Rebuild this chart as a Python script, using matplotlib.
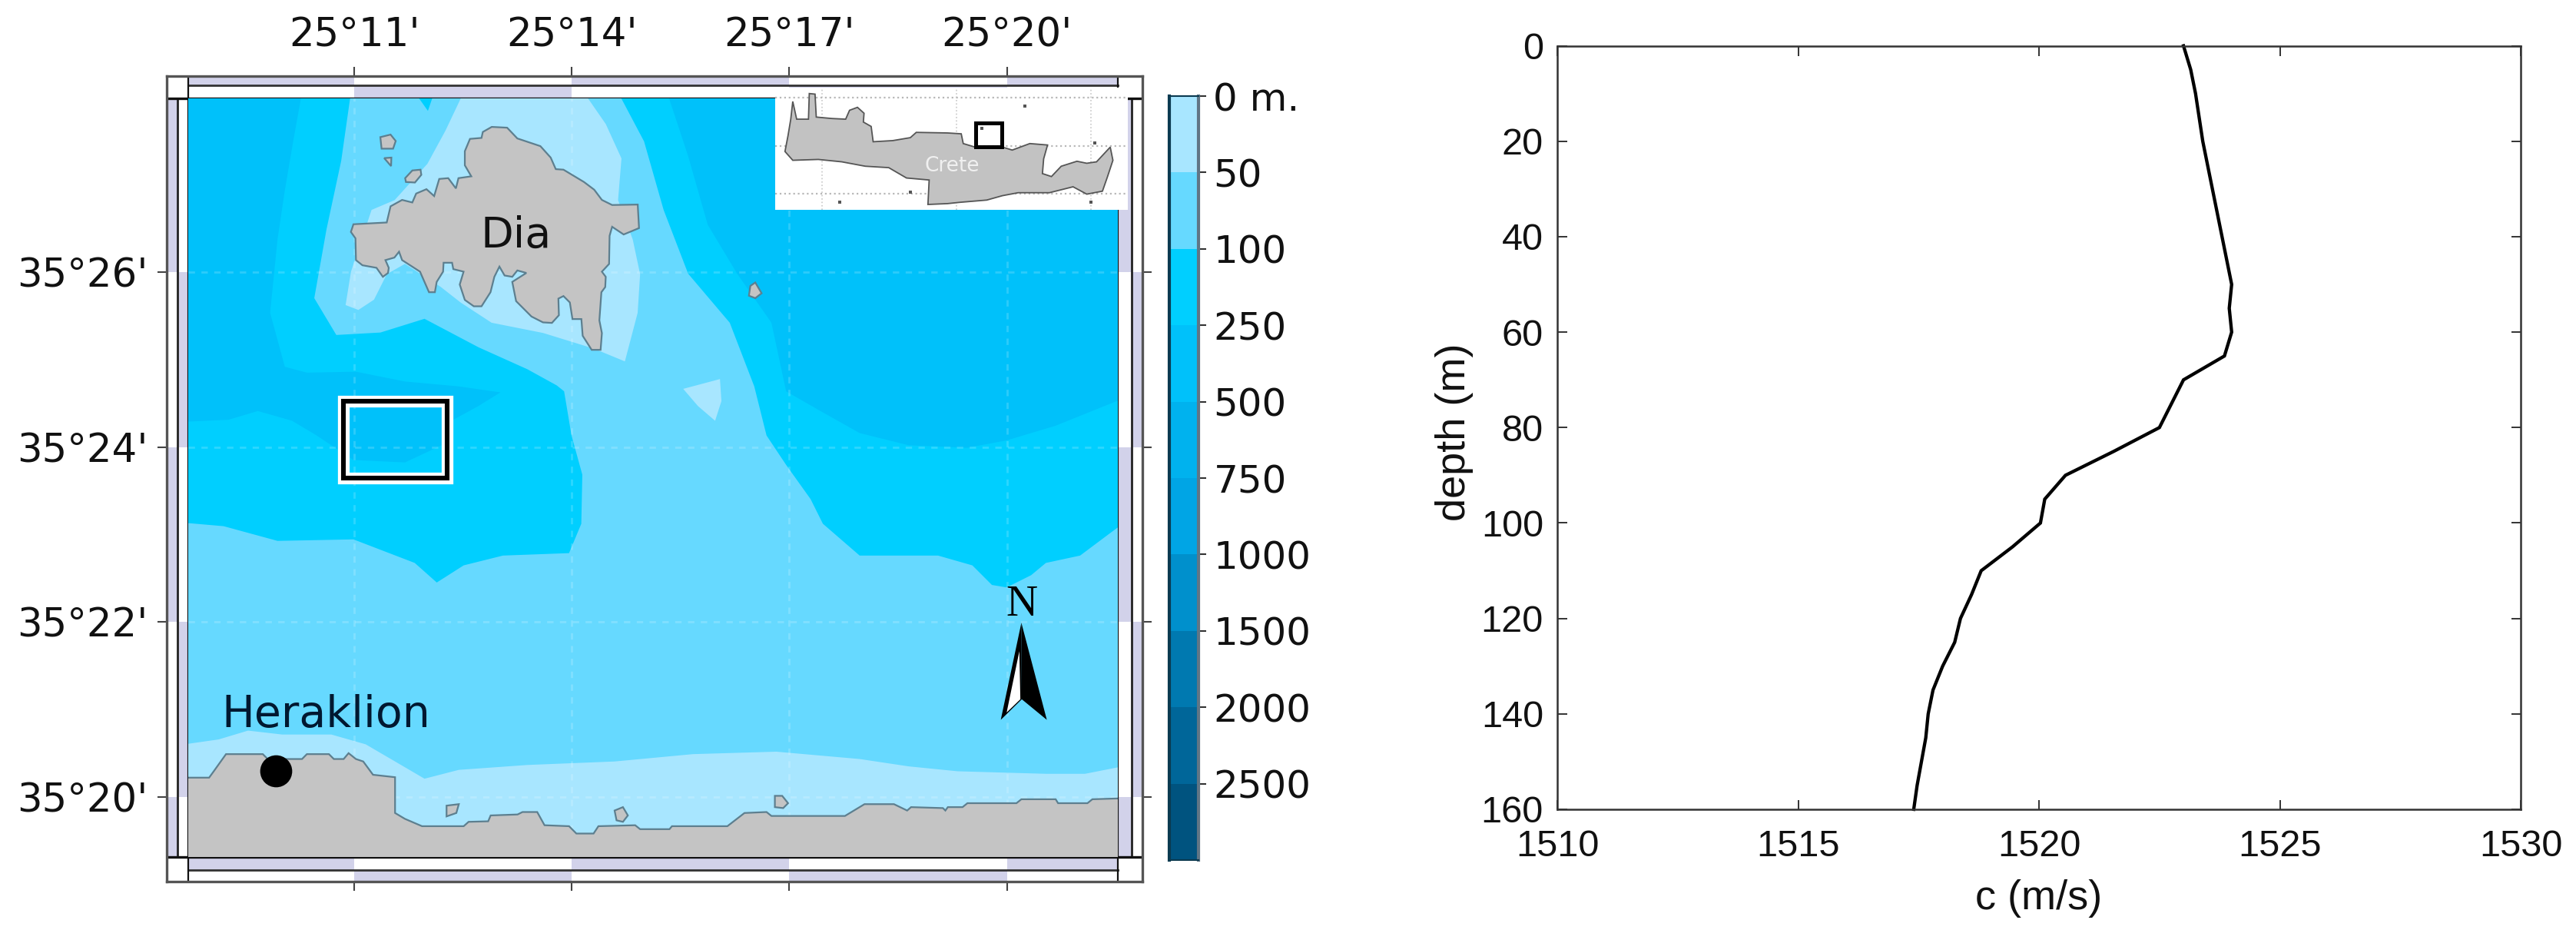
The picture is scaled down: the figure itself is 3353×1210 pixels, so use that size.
import matplotlib
matplotlib.use("Agg")
import matplotlib.pyplot as plt
from matplotlib.patches import Rectangle

W, H = 3353, 1210

# ---------- sound speed profile ----------
depth_m = [0, 5, 10, 20, 30, 40, 50, 55, 60, 65, 70, 75, 80, 85, 90, 95, 100, 105, 110, 115, 120, 125, 130, 135, 140, 145, 150, 155, 160]
sound_speed = [1523.0, 1523.15, 1523.25, 1523.4, 1523.6, 1523.8, 1524.0, 1523.95, 1524.0, 1523.85, 1523.0, 1522.75, 1522.5, 1521.55, 1520.55, 1520.12, 1520.03, 1519.45, 1518.8, 1518.6, 1518.37, 1518.25, 1518.0, 1517.8, 1517.7, 1517.65, 1517.56, 1517.47, 1517.4]
c_ticks = [1510, 1515, 1520, 1525, 1530]
depth_ticks = [0, 20, 40, 60, 80, 100, 120, 140, 160]

# ---------- map ticks (arcminutes past 25 deg E / 35 deg N) ----------
lon_ticks = [11, 14, 17, 20]
lat_ticks = [20, 22, 24, 26]
lon_labels = ["25°11'", "25°14'", "25°17'", "25°20'"]
lat_labels = ["35°20'", "35°22'", "35°24'", "35°26'"]

# ---------- depth scale ----------
depth_labels = ["0 m.", "50", "100", "250", "500", "750", "1000", "1500", "2000", "2500"]
band_colors = ["#A8E6FF", "#66D9FF", "#00CFFF", "#00C1FA", "#00B2EE", "#00A5E5", "#0090CC", "#0079B0", "#006699", "#00537F"]

# ---------- bathymetry outlines ----------
deep_w_lon = [8.659, 10.281, 10.159, 10.044, 9.943, 9.841, 10.044, 10.348, 11.024, 11.700, 12.443, 13.017, 12.713, 12.341, 12.206, 11.700, 10.990, 10.686, 10.483, 10.145, 9.673, 9.267, 8.659]
deep_w_lat = [28.058, 28.058, 27.497, 26.937, 26.376, 25.536, 24.919, 24.852, 24.863, 24.751, 24.695, 24.627, 24.471, 24.302, 24.022, 23.826, 23.854, 24.022, 24.134, 24.302, 24.414, 24.314, 24.291]
deep_e_lon = [15.315, 15.605, 15.875, 16.281, 16.754, 16.956, 17.429, 17.970, 18.646, 19.456, 19.997, 20.673, 21.598, 21.598]
deep_e_lat = [28.058, 27.329, 26.545, 25.984, 25.423, 24.639, 24.414, 24.162, 24.022, 23.994, 24.078, 24.246, 24.555, 28.058]
mid_lon = [8.659, 9.200, 9.943, 10.990, 11.835, 12.139, 12.510, 13.051, 13.963, 14.132, 14.146, 13.997, 13.895, 13.794, 13.389, 12.713, 11.970, 11.362, 10.754, 10.450, 10.618, 10.821, 10.956, 11.835, 12.017, 12.105, 14.639, 14.997, 15.267, 15.605, 16.179, 16.517, 16.686, 16.956, 17.294, 17.463, 17.970, 19.051, 19.524, 19.794, 19.997, 20.335, 20.538, 21.010, 21.416, 21.598, 21.598, 8.659]
mid_lat = [23.136, 23.097, 22.929, 22.946, 22.677, 22.453, 22.649, 22.761, 22.789, 23.125, 23.686, 24.134, 24.639, 24.706, 24.891, 25.143, 25.468, 25.311, 25.283, 25.704, 26.488, 27.273, 28.058, 28.058, 27.845, 28.058, 28.058, 27.497, 26.713, 25.984, 25.423, 24.695, 24.134, 23.798, 23.406, 23.125, 22.761, 22.761, 22.649, 22.425, 22.397, 22.537, 22.677, 22.761, 23.013, 23.125, 19.269, 19.269]
shoal_dia_lon = [12.510, 14.166, 14.470, 14.686, 14.639, 14.841, 14.943, 14.909, 14.733, 14.308, 13.605, 12.895, 12.470, 12.193, 11.700, 11.450, 11.274, 11.058, 10.882, 10.956, 11.240, 11.558, 12.010, 12.260]
shoal_dia_lat = [28.058, 28.058, 27.694, 27.301, 26.825, 26.376, 25.978, 25.536, 24.981, 25.126, 25.306, 25.423, 25.653, 25.833, 26.096, 25.978, 25.687, 25.569, 25.625, 26.006, 26.713, 26.825, 27.240, 27.621]
shoal_spot_lon = [15.537, 16.044, 16.064, 15.977, 15.740]
shoal_spot_lat = [24.667, 24.779, 24.527, 24.302, 24.471]
shoal_coast_lon = [8.659, 9.132, 9.537, 10.010, 10.686, 11.159, 11.564, 11.970, 12.443, 13.389, 14.591, 15.673, 16.821, 17.970, 18.646, 19.321, 20.537, 21.078, 21.598, 21.598, 8.659]
shoal_coast_lat = [20.603, 20.659, 20.760, 20.715, 20.715, 20.603, 20.407, 20.210, 20.311, 20.367, 20.407, 20.491, 20.519, 20.435, 20.351, 20.295, 20.266, 20.266, 20.351, 19.269, 19.269]

# ---------- land ----------
dia_lon = [12.897, 13.109, 13.250, 13.568, 13.710, 13.780, 13.886, 14.169, 14.310, 14.416, 14.557, 14.910, 14.928, 14.716, 14.557, 14.522, 14.515, 14.416, 14.469, 14.462, 14.409, 14.381, 14.416, 14.398, 14.275, 14.151, 14.133, 14.010, 13.974, 13.886, 13.816, 13.823, 13.727, 13.604, 13.445, 13.233, 13.180, 13.374, 13.250, 13.180, 13.074, 13.003, 12.933, 12.880, 12.756, 12.650, 12.526, 12.456, 12.509, 12.367, 12.350, 12.233, 12.226, 12.138, 12.113, 12.032, 11.908, 11.661, 11.619, 11.555, 11.431, 11.477, 11.467, 11.396, 11.308, 11.114, 11.025, 11.018, 10.955, 10.990, 11.449, 11.502, 11.661, 11.802, 11.855, 11.997, 12.103, 12.173, 12.297, 12.403, 12.438, 12.615, 12.526, 12.526, 12.597, 12.756, 12.774]
dia_lat = [27.662, 27.653, 27.530, 27.442, 27.311, 27.179, 27.173, 27.032, 26.944, 26.827, 26.769, 26.774, 26.505, 26.432, 26.520, 26.417, 26.095, 26.007, 25.948, 25.831, 25.772, 25.450, 25.304, 25.113, 25.113, 25.274, 25.465, 25.465, 25.655, 25.728, 25.699, 25.509, 25.421, 25.427, 25.494, 25.670, 25.890, 25.992, 26.021, 25.948, 25.963, 26.065, 25.948, 25.772, 25.611, 25.611, 25.684, 25.860, 26.007, 26.036, 26.109, 26.109, 26.007, 25.890, 25.772, 25.772, 26.007, 26.139, 26.235, 26.168, 26.139, 26.051, 25.992, 25.948, 26.051, 26.080, 26.139, 26.388, 26.461, 26.549, 26.569, 26.754, 26.827, 26.798, 26.900, 26.950, 26.871, 27.067, 27.076, 26.959, 27.076, 27.097, 27.223, 27.384, 27.525, 27.536, 27.604]
islets_lon = [
    [11.361, 11.502, 11.573, 11.537, 11.378],
    [11.414, 11.513, 11.509],
    [11.703, 11.802, 11.915, 11.926, 11.838, 11.714],
    [16.463, 16.531, 16.618, 16.531, 16.443],
    [12.274, 12.443, 12.409, 12.274],
    [14.591, 14.706, 14.774, 14.706, 14.618],
    [16.801, 16.902, 16.983, 16.916, 16.801],
]
islets_lat = [
    [27.545, 27.574, 27.501, 27.413, 27.413],
    [27.305, 27.311, 27.214],
    [27.076, 27.164, 27.173, 27.114, 27.026, 27.032],
    [25.844, 25.883, 25.760, 25.704, 25.732],
    [19.902, 19.919, 19.818, 19.779],
    [19.846, 19.885, 19.790, 19.717, 19.734],
    [20.014, 20.014, 19.930, 19.874, 19.885],
]
coast_lon = [8.659, 9.000, 9.064, 9.233, 9.740, 9.808, 10.281, 10.348, 10.652, 10.720, 10.855, 10.923, 11.024, 11.125, 11.260, 11.564, 11.564, 11.700, 11.936, 12.510, 12.578, 12.848, 12.882, 13.253, 13.321, 13.524, 13.625, 13.963, 14.064, 14.301, 14.368, 14.875, 14.943, 15.348, 15.382, 16.146, 16.382, 16.686, 16.754, 17.767, 18.037, 18.443, 18.625, 18.679, 19.118, 19.152, 19.186, 19.389, 19.456, 20.132, 20.200, 20.673, 20.706, 21.111, 21.179, 21.600, 21.600, 8.659]
coast_lat = [20.222, 20.222, 20.295, 20.491, 20.491, 20.435, 20.435, 20.491, 20.491, 20.435, 20.435, 20.502, 20.435, 20.407, 20.255, 20.227, 19.818, 19.751, 19.667, 19.667, 19.717, 19.723, 19.790, 19.801, 19.829, 19.829, 19.678, 19.667, 19.583, 19.583, 19.667, 19.678, 19.633, 19.633, 19.667, 19.667, 19.818, 19.829, 19.784, 19.784, 19.919, 19.919, 19.846, 19.885, 19.874, 19.846, 19.885, 19.885, 19.930, 19.930, 19.975, 19.975, 19.930, 19.930, 19.975, 19.986, 19.200, 19.200]

# ---------- annotations on the map ----------
study_lon = [10.855, 12.287]
study_lat = [23.647, 24.527]
city_lon, city_lat = 9.916, 20.295
north_left_lon = [20.200, 19.916, 20.206]
north_left_lat = [21.993, 20.883, 21.118]
north_right_lon = [20.200, 20.206, 20.551]
north_right_lat = [21.993, 21.118, 20.883]
north_inner_lon = [20.172, 19.997, 20.186]
north_inner_lat = [21.668, 20.967, 21.118]

# ---------- Crete inset (degrees) ----------
crete_lon = [23.766, 23.781, 23.810, 23.898, 23.904, 23.947, 23.956, 24.073, 24.175, 24.204, 24.263, 24.312, 24.307, 24.365, 24.380, 24.526, 24.657, 24.701, 24.934, 25.036, 25.051, 25.139, 25.343, 25.416, 25.547, 25.679, 25.650, 25.641, 25.708, 25.781, 25.898, 25.971, 26.044, 26.146, 26.166, 26.126, 26.088, 25.971, 25.869, 25.693, 25.460, 25.343, 25.226, 25.022, 24.934, 24.788, 24.797, 24.628, 24.496, 24.321, 24.146, 23.971, 23.781, 23.723, 23.746]
crete_lat = [35.778, 35.963, 35.778, 35.778, 36.046, 36.040, 35.800, 35.785, 35.778, 35.871, 35.902, 35.840, 35.748, 35.702, 35.542, 35.554, 35.585, 35.640, 35.634, 35.625, 35.523, 35.486, 35.486, 35.455, 35.523, 35.508, 35.363, 35.209, 35.178, 35.286, 35.338, 35.317, 35.332, 35.486, 35.348, 35.178, 35.025, 34.994, 35.071, 35.009, 35.009, 34.978, 34.932, 34.908, 34.895, 34.886, 35.142, 35.163, 35.271, 35.286, 35.332, 35.357, 35.348, 35.440, 35.609]
crete_specks_lon = [26.029, 25.512, 24.131, 24.657, 26.000, 25.191]
crete_specks_lat = [35.526, 35.917, 34.908, 35.018, 34.908, 35.680]
inset_box_lon = [25.145, 25.340]
inset_box_lat = [35.492, 35.735]
inset_grid_lon = [24, 25, 26]
inset_grid_lat = [35, 35.5, 36]


def px_axes(fig, x0, y0, x1, y1, **kw):
    return fig.add_axes([x0 / W, 1 - y1 / H, (x1 - x0) / W, (y1 - y0) / H], **kw)


fig = plt.figure(figsize=(W / 100, H / 100), dpi=100, facecolor="white")

# --- fancy map frame
fr = px_axes(fig, 217, 99, 1487, 1147, zorder=1)
LON0, LON1, LAT0, LAT1 = 8.415, 21.869, 19.033, 28.243
IN_LON0, IN_LON1, IN_LAT0, IN_LAT1 = 8.712, 21.530, 19.315, 27.988
MID_L, MID_R, MID_B, MID_T = 8.564, 21.720, 19.165, 28.137
fr.set_xlim(LON0, LON1)
fr.set_ylim(LAT0, LAT1)
STRIP = "#D2D2EA"
xe = [IN_LON0] + lon_ticks + [IN_LON1]
ye = [IN_LAT0] + lat_ticks + [IN_LAT1]
for i in range(len(xe) - 1):
    top_hi = i % 2 == 0
    fr.add_patch(Rectangle((xe[i], MID_T if top_hi else IN_LAT1), xe[i + 1] - xe[i], LAT1 - MID_T if top_hi else MID_T - IN_LAT1, fc=STRIP, ec="none"))
    fr.add_patch(Rectangle((xe[i], MID_B if top_hi else LAT0), xe[i + 1] - xe[i], IN_LAT0 - MID_B if top_hi else MID_B - LAT0, fc=STRIP, ec="none"))
for i in range(len(ye) - 1):
    # counted from the top of the map
    k = len(ye) - 2 - i
    outer_left = k % 2 == 0
    fr.add_patch(Rectangle((LON0 if outer_left else MID_L, ye[i]), MID_L - LON0 if outer_left else IN_LON0 - MID_L, ye[i + 1] - ye[i], fc=STRIP, ec="none"))
    fr.add_patch(Rectangle((IN_LON1 if outer_left else MID_R, ye[i]), MID_R - IN_LON1 if outer_left else LON1 - MID_R, ye[i + 1] - ye[i], fc=STRIP, ec="none"))
fr.plot([IN_LON0, IN_LON1], [MID_T, MID_T], color="#333333", lw=2)
fr.plot([IN_LON0, IN_LON1], [MID_B, MID_B], color="#333333", lw=2)
fr.plot([MID_L, MID_L], [IN_LAT0, IN_LAT1], color="#222222", lw=2)
fr.plot([MID_R, MID_R], [IN_LAT0, IN_LAT1], color="#222222", lw=2)
fr.plot([IN_LON0, IN_LON0], [LAT0, LAT1], color="#111111", lw=1.6)
fr.plot([IN_LON1, IN_LON1], [LAT0, LAT1], color="#111111", lw=1.6)
fr.plot([LON0, LON1], [IN_LAT0, IN_LAT0], color="#111111", lw=2.4)
fr.plot([LON0, LON1], [IN_LAT1, IN_LAT1], color="#111111", lw=2.4)
for s in fr.spines.values():
    s.set_linewidth(2.4)
    s.set_color("#555555")
fr.set_xticks(lon_ticks)
fr.set_xticklabels(lon_labels)
fr.set_yticks(lat_ticks)
fr.set_yticklabels(lat_labels)
fr.tick_params(axis="both", length=8.5, width=1.5, color="#444444", labelsize=37, labelcolor="#111111",
               top=True, bottom=True, left=True, right=True, labeltop=True, labelbottom=False)
fr.tick_params(axis="x", pad=11)
fr.tick_params(axis="y", pad=9)

# --- map
ax = px_axes(fig, 245, 128, 1455, 1115, zorder=2)
ax.set_xlim(IN_LON0, IN_LON1)
ax.set_ylim(IN_LAT0, IN_LAT1)
ax.set_facecolor(band_colors[2])
ax.fill(deep_w_lon, deep_w_lat, color=band_colors[3], lw=0, zorder=1)
ax.fill(deep_e_lon, deep_e_lat, color=band_colors[3], lw=0, zorder=1)
ax.fill(mid_lon, mid_lat, color=band_colors[1], lw=0, zorder=2)
ax.fill(shoal_dia_lon, shoal_dia_lat, color=band_colors[0], lw=0, zorder=3)
ax.fill(shoal_spot_lon, shoal_spot_lat, color=band_colors[0], lw=0, zorder=3)
ax.fill(shoal_coast_lon, shoal_coast_lat, color=band_colors[0], lw=0, zorder=3)
for v in lon_ticks:
    ax.axvline(v, color="white", alpha=0.18, lw=2, ls=(0, (3, 3)), zorder=4)
for v in lat_ticks:
    ax.axhline(v, color="white", alpha=0.18, lw=2, ls=(0, (3, 3)), zorder=4)
LAND = "#C4C4C4"
EDGE = "#5D7F8F"
ax.fill(coast_lon, coast_lat, fc=LAND, ec=EDGE, lw=1.6, zorder=5)
ax.fill(dia_lon, dia_lat, fc=LAND, ec=EDGE, lw=1.6, zorder=5)
for xs, ys in zip(islets_lon, islets_lat):
    ax.fill(xs, ys, fc=LAND, ec=EDGE, lw=1.6, zorder=5)
for lw, col, z in [(11, "white", 6), (4.4, "black", 7)]:
    ax.add_patch(Rectangle((study_lon[0], study_lat[0]), study_lon[1] - study_lon[0], study_lat[1] - study_lat[0],
                           fc="none", ec=col, lw=lw, zorder=z))
ax.plot([city_lon], [city_lat], "o", color="black", ms=30, mew=0, zorder=8)
ax.text(13.233, 26.42, "Dia", fontsize=40, color="#111111", ha="center", va="center", zorder=8)
ax.text(10.612, 20.94, "Heraklion", fontsize=41, color="#001830", ha="center", va="center", zorder=8)
ax.text(20.2, 22.2, "N", fontsize=41, family="Liberation Serif", color="black", ha="center", va="center", zorder=8)
ax.fill(north_left_lon, north_left_lat, color="black", lw=0, zorder=8)
ax.fill(north_right_lon, north_right_lat, color="black", lw=0, zorder=8)
ax.fill(north_inner_lon, north_inner_lat, color="white", lw=0, zorder=9)
ax.set_xticks([])
ax.set_yticks([])
for s in ax.spines.values():
    s.set_visible(False)

# --- Crete inset
ins = px_axes(fig, 1009, 114, 1468, 273, zorder=3)
ins.set_xlim(23.65, 26.277)
ins.set_ylim(34.83, 36.108)
ins.set_facecolor("white")
for v in inset_grid_lon:
    ins.axvline(v, color="#C8C8C8", lw=1.2, ls=":", zorder=1)
for v in inset_grid_lat:
    ins.axhline(v, color="#B8B8B8", lw=1.6, ls=":", zorder=1)
ins.fill(crete_lon, crete_lat, fc="#C2C2C2", ec="#555555", lw=1.3, zorder=2)
ins.plot(crete_specks_lon, crete_specks_lat, "s", color="#555555", ms=2.5, mew=0, zorder=3)
ins.add_patch(Rectangle((inset_box_lon[0], inset_box_lat[0]), inset_box_lon[1] - inset_box_lon[0], inset_box_lat[1] - inset_box_lat[0],
                        fc="none", ec="black", lw=3.6, zorder=4))
ins.text(24.97, 35.286, "Crete", fontsize=19, color="#F0F0F0", ha="center", va="center", zorder=5)
ins.set_xticks([])
ins.set_yticks([])
for s in ins.spines.values():
    s.set_visible(False)

# --- depth scale
cb = px_axes(fig, 1522, 125, 1560, 1119, zorder=2)
for i, col in enumerate(band_colors):
    cb.barh(i + 0.5, 1, height=1, color=col, lw=0)
cb.set_xlim(0, 1)
cb.set_ylim(len(band_colors), 0)
cb.set_xticks([])
cb.yaxis.tick_right()
cb.set_yticks(range(len(depth_labels)))
cb.set_yticklabels(depth_labels)
cb.tick_params(axis="y", length=7, width=1.5, pad=7, labelsize=36, color="#333333", labelcolor="#111111")
for name, s in cb.spines.items():
    s.set_color("#607585" if name == "right" else "#0B3A50")
    s.set_linewidth(3 if name in ("right", "left") else 1.5)

# --- sound speed profile
pr = px_axes(fig, 2027, 59.6, 3281, 1053, zorder=2)
pr.plot(sound_speed, depth_m, color="black", lw=3.1, clip_on=False, solid_joinstyle="miter")
pr.set_xlim(c_ticks[0], c_ticks[-1])
pr.set_ylim(depth_ticks[-1], depth_ticks[0])
pr.set_xticks(c_ticks)
pr.set_yticks(depth_ticks)
pr.tick_params(axis="both", direction="in", length=9, width=1.4, top=True, right=True, color="#333333",
               labelsize=35, labelcolor="#111111")
pr.tick_params(axis="x", pad=19)
pr.tick_params(axis="y", pad=13)
for lab in pr.get_xticklabels() + pr.get_yticklabels():
    lab.set_family("Liberation Sans")
for s in pr.spines.values():
    s.set_linewidth(1.8)
    s.set_color("#333333")
pr.set_xlabel("c (m/s)", fontsize=39, family="Liberation Sans", color="#111111", va="center")
pr.xaxis.set_label_coords(0.5, -0.1165)
pr.set_ylabel("depth (m)", fontsize=39, family="Liberation Sans", color="#111111", va="center")
pr.yaxis.set_label_coords(-0.1068, 0.4945)

fig.savefig("out.png", dpi=100, facecolor="white")
